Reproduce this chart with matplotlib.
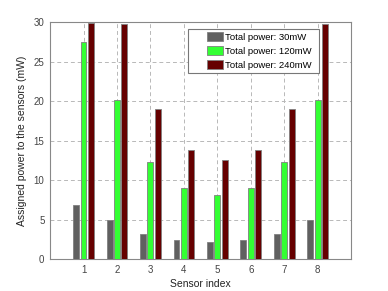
"""Assigned power per sensor for three total power budgets."""

import numpy as np
import matplotlib.pyplot as plt
from matplotlib.patches import Rectangle

plt.rcParams["font.family"] = ["Liberation Sans", "DejaVu Sans"]

sensors = [1, 2, 3, 4, 5, 6, 7, 8]
power_30 = [6.8, 5.0, 3.15, 2.4, 2.15, 2.4, 3.15, 5.0]
power_120 = [27.5, 20.1, 12.3, 8.95, 8.1, 8.95, 12.3, 20.1]
power_240 = [29.9, 29.7, 19.05, 13.8, 12.5, 13.8, 19.05, 29.7]
labels = ["Total power: 30mW", "Total power: 120mW", "Total power: 240mW"]
colors = ["#606060", "#33ff33", "#660000"]

fig = plt.figure(figsize=(3.88, 2.91), dpi=100)
ax = fig.add_axes([0.129, 0.110, 0.776, 0.814])

x = np.array(sensors)
width = 0.175
offset = 0.22
for i, (vals, lab, col) in enumerate(zip([power_30, power_120, power_240], labels, colors)):
    ax.bar(x + (i - 1) * offset, vals, width, color=col, edgecolor="#808080",
           linewidth=0.6, label=lab, zorder=3)

ax.set_xlim(0, 9)
ax.set_ylim(0, 30)
ax.set_xticks(sensors)
ax.set_yticks(range(0, 31, 5))
ax.grid(True, linestyle=(0, (4, 3)), color="#b8b8b8", linewidth=0.7, zorder=0)
ax.tick_params(labelsize=7, colors="#444444", length=0, pad=4)
for s in ax.spines.values():
    s.set_color("#888888")
    s.set_linewidth(0.8)

ax.set_xlabel("Sensor index", fontsize=7.5, color="#222222", labelpad=3)
ax.set_ylabel("Assigned power to the sensors (mW)", fontsize=7.5, color="#222222", labelpad=5)

# legend box drawn by hand to get the wide MATLAB-like padding
ax.add_patch(Rectangle((0.458, 0.785), 0.436, 0.185, transform=ax.transAxes,
                       facecolor="white", edgecolor="#777777", linewidth=0.8, zorder=5))
leg = ax.legend(loc="upper left", bbox_to_anchor=(0.521, 0.957), fontsize=6.8,
                frameon=False, handlelength=1.67, handleheight=1.1,
                borderpad=0, labelspacing=0.45, handletextpad=0.25, borderaxespad=0)
leg.set_zorder(6)

fig.savefig("out.png", dpi=100)
